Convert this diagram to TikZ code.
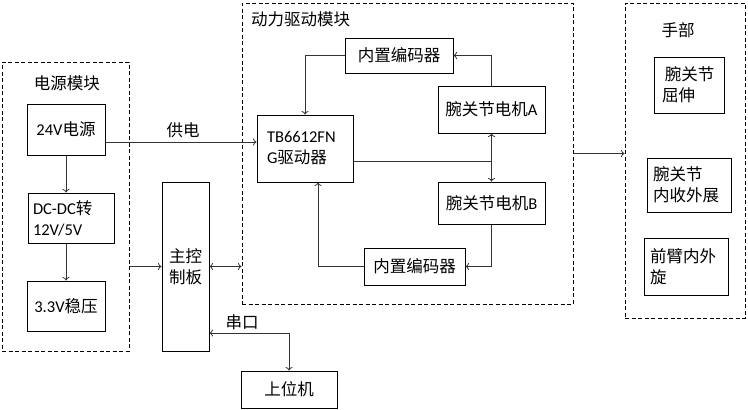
\documentclass[tikz,border=0pt]{standalone}
\usepackage{fontspec}
\setmainfont{Carlito}
\newfontfamily\cjk{Noto Sans CJK SC}
\newcommand\zh[1]{{\cjk #1}}
\usetikzlibrary{arrows.meta}
\begin{document}
\begin{tikzpicture}[x=1pt,y=-1pt,
  font=\fontsize{16.5}{21}\selectfont,
  box/.style={draw, line width=1pt, inner sep=0pt, align=center},
  lbox/.style={draw, line width=1pt, inner ysep=0pt, align=left},
  group/.style={draw, line width=1pt, dash pattern=on 4pt off 2.5pt, inner sep=0pt},
  conn/.style={line width=0.8pt, draw=black!80, -{To[length=3.5pt,width=7pt]}},
  bconn/.style={line width=0.8pt, draw=black!80, {To[length=3.5pt,width=7pt]}-{To[length=3.5pt,width=7pt]}},
  lbl/.style={inner sep=0pt}]
\useasboundingbox (0,0) rectangle (748,410);
\fill[white] (0,0) rectangle (748,410);

% groups
\node[group, minimum width=127pt, minimum height=289pt] (PWR) at (65.5,206.5) {};
\node[group, minimum width=331pt, minimum height=301pt] (DRV) at (407.5,153.5) {};
\node[group, minimum width=120pt, minimum height=315pt] (HAND) at (685,160.5) {};
\node[lbl] (tPWR) at (67,83) {\zh{电源模块}};
\node[lbl, anchor=west] (tDRV) at (251,19) {\zh{动力驱动模块}};
\node[lbl] (tHAND) at (678,30) {\zh{手部}};

% power module
\node[box, minimum width=78pt, minimum height=51pt] (V24) at (66,129.5) {24V\zh{电源}};
\node[lbox, inner xsep=5pt, text width=76pt, minimum height=50pt] (DC) at (71,218) {DC-DC\zh{转}\\12V/5V};
\node[box, minimum width=78pt, minimum height=50pt] (V33) at (66,306) {3.3V\zh{稳压}};

% main control
\node[box, minimum width=47pt, minimum height=169pt] (MCU) at (185.5,266.5) {\zh{主控}\\\zh{制板}};

% drive module
\node[box, minimum width=108pt, minimum height=35pt] (ET) at (399,55.5) {\zh{内置编码器}};
\node[lbox, inner xsep=10pt, text width=76pt, minimum height=67pt] (TB) at (305,148.5) {TB6612FN\\G\zh{驱动器}};
\node[box, minimum width=107pt, minimum height=47pt] (MA) at (491.5,109.5) {\zh{腕关节电机}A};
\node[box, minimum width=107pt, minimum height=42pt] (MB) at (491.5,203) {\zh{腕关节电机}B};
\node[box, minimum width=101pt, minimum height=37pt] (EB) at (414.5,266.5) {\zh{内置编码器}};

% hand
\node[lbox, inner xsep=8pt, text width=54pt, minimum height=56pt] (H1) at (689,85) {\zh{\,腕关节}\\\zh{屈伸}};
\node[lbox, inner xsep=6pt, text width=72pt, minimum height=54pt] (H2) at (689,185) {\zh{腕关节}\\\zh{内收外展}};
\node[lbox, inner xsep=6pt, text width=72pt, minimum height=57pt] (H3) at (686,266.5) {\zh{前臂内外}\\\zh{旋}};

% host
\node[box, minimum width=96pt, minimum height=37pt] (PC) at (289,389.5) {\zh{上位机}};

% connectors: power
\draw[conn] (V24.south) -- (V24.south |- DC.north);
\draw[conn] (DC.south -| V33.north) -- (V33.north);
\draw[conn] ([yshift=-12.5pt]V24.east) -- ([yshift=-12.5pt]V24.east -| TB.west);
\node[lbl] (lPWR) at (183,130) {\zh{供电}};
\draw[conn] (PWR.east |- MCU.west) -- (MCU.west);
\draw[bconn] (MCU.east) -- (MCU.east -| DRV.west);

% serial
\coordinate (c1) at (289,333);
\draw[bconn] (c1 -| MCU.east) -- (c1) -- (PC.north);
\node[lbl] (lSER) at (242,322) {\zh{串口}};

% drive internals
\draw[conn] (MA.north) |- (ET.east);
\draw[conn] (ET.west) -| (TB.north);
\draw[line width=0.8pt, draw=black!80] ([yshift=-12.5pt]TB.east) -- ([yshift=-12.5pt]TB.east -| MA.south);
\draw[bconn] (MA.south) -- (MB.north);
\draw[conn] (MB.south) |- (EB.east);
\draw[conn] (EB.west) -| ([xshift=13pt]TB.south);

% to hand
\draw[conn] (DRV.east) -- (DRV.east -| HAND.west);
\end{tikzpicture}
\end{document}
